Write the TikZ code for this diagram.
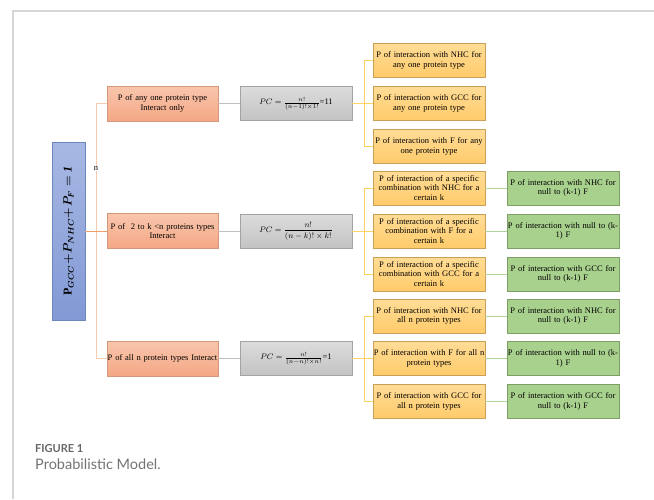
\documentclass[tikz,border=0pt]{standalone}
\usepackage{fontspec}
\setmainfont{Liberation Serif}
\newfontfamily\captionfont{Lato}
\usepackage{amsmath}
\usepackage{amssymb}
\usepackage{tikz}
\usetikzlibrary{positioning}
\definecolor{rootline}{HTML}{6F85BD}
\definecolor{roottop}{HTML}{A7B8E3}
\definecolor{rootbottom}{HTML}{8299D5}
\definecolor{caseline}{HTML}{D4977B}
\definecolor{casetop}{HTML}{F9C6AD}
\definecolor{casebottom}{HTML}{F4A785}
\definecolor{countline}{HTML}{A3A3A3}
\definecolor{counttop}{HTML}{DCDCDC}
\definecolor{countbottom}{HTML}{C3C3C3}
\definecolor{partnerline}{HTML}{C9A055}
\definecolor{partnertop}{HTML}{FFDC96}
\definecolor{partnerbottom}{HTML}{FFCB6B}
\definecolor{nullline}{HTML}{7E9E66}
\definecolor{nullfill}{HTML}{A9D18E}
\definecolor{trunkcolor}{HTML}{F8CBAD}
\definecolor{stemcolor}{HTML}{F0A070}
\definecolor{spinecolor}{HTML}{FFD265}
\definecolor{framecolor}{HTML}{D6D6D6}
\tikzset{
root box/.style = { rectangle, draw = rootline, top color = roottop, bottom color = rootbottom, minimum width = 33pt, minimum height = 178pt, inner sep = 0pt },
case box/.style = { rectangle, draw = caseline, top color = casetop, bottom color = casebottom, text width = 111pt, minimum height = 35pt, inner xsep = 0pt, inner ysep = 1pt, align = center, font = \fontsize{8.5}{9.4}\selectfont },
count box/.style = { rectangle, draw = countline, top color = counttop, bottom color = countbottom, text width = 112pt, minimum height = 34pt, inner xsep = 0pt, inner ysep = 1pt, align = center, font = \fontsize{8.5}{9.5}\selectfont },
partner box/.style = { rectangle, draw = partnerline, top color = partnertop, bottom color = partnerbottom, text width = 112pt, minimum height = 34pt, inner xsep = 0pt, inner ysep = 1pt, align = center, font = \fontsize{8.5}{9.2}\selectfont },
null box/.style = { rectangle, draw = nullline, fill = nullfill, text width = 112pt, minimum height = 34pt, inner xsep = 0pt, inner ysep = 1pt, align = center, font = \fontsize{8.5}{9.2}\selectfont },
trunk line/.style = { draw = trunkcolor, line width = 0.9pt },
stem line/.style = { draw = stemcolor, line width = 0.9pt },
count line/.style = { draw = countline!70, line width = 0.9pt },
spine line/.style = { draw = spinecolor, line width = 0.9pt },
null line/.style = { draw = nullfill!90!white, line width = 0.9pt },
}

\begin{document}
\begin{tikzpicture}[x = 1pt, y = -1pt]
    \useasboundingbox (0, 0) rectangle (654, 499);
    \draw[framecolor, line width = 1.2pt] (13, 499) -- (13, 11) -- (654, 11);
    % root
    \node[root box] (root) at (68.5, 231) {\rotatebox{90}{\fontsize{12}{14}\selectfont\boldmath $\mathrm{P}_{GCC}\!+\!P_{NHC}\!+\!P_{F}=\mathit{1}$}};
    % three cases
    \node[case box] (case1) at (162.5, 103.5) {P of any one protein type\\Interact only};
    \node[case box] (case2) at (162.5, 231) {P of \ 2 to k <n proteins types\\Interact};
    \node[case box] (case3) at (162.5, 358.5) {P of all n protein types Interact};
    \node[count box] (count1) at (296, 103.5) {\mbox{$PC=\tfrac{n!}{(n-1)!\times 1!}$=11}};
    \node[count box] (count2) at (296, 231) {\mbox{$PC=\dfrac{n!}{(n-k)!\times k!}$}};
    \node[count box] (count3) at (296, 358.5) {\mbox{$PC=\tfrac{n!}{(n-n)!\times n!}$=1}};
    % any one protein type
    \node[partner box] (partner11) at (429, 60.5) {P of interaction with NHC for\\any one protein type};
    \node[partner box] (partner12) at (429, 103.5) {P of interaction with GCC for\\any one protein type};
    \node[partner box] (partner13) at (429, 146.5) {P of interaction with F for any\\one protein type};
    % 2 to k
    \node[partner box] (partner21) at (429, 188) {P of interaction of a specific\\combination with NHC for a\\certain k};
    \node[partner box] (partner22) at (429, 231) {P of interaction of a specific\\combination with F for a\\certain k};
    \node[partner box] (partner23) at (429, 274) {P of interaction of a specific\\combination with GCC for a\\certain k};
    \node[null box] (null21) at (563, 188) {P of interaction with NHC for\\null to (k-1) F};
    \node[null box] (null22) at (563, 231) {P of interaction with null to (k-\\1) F};
    \node[null box] (null23) at (563, 274) {P of interaction with GCC for\\null to (k-1) F};
    % all n
    \node[partner box] (partner31) at (429, 316) {P of interaction with NHC for\\all n protein types};
    \node[partner box] (partner32) at (429, 358.5) {P of interaction with F for all n\\protein types};
    \node[partner box] (partner33) at (429, 401.5) {P of interaction with GCC for\\all n protein types};
    \node[null box] (null31) at (563, 316) {P of interaction with NHC for\\null to (k-1) F};
    \node[null box] (null32) at (563, 358.5) {P of interaction with null to (k-\\1) F};
    \node[null box] (null33) at (563, 401.5) {P of interaction with GCC for\\null to (k-1) F};
    % connectors
    \coordinate (split) at (96, 231);
    \coordinate (spine1) at (364, 103.5);
    \coordinate (spine2) at (364, 231);
    \coordinate (spine3) at (364, 358.5);
    \draw[trunk line] (split) |- (case1.west);
    \draw[trunk line] (split) |- (case3.west);
    \draw[stem line] (root.east) -- (case2.west);
    \node[fill = white, inner sep = 0.5pt, font = \fontsize{8.5}{9}\selectfont] (nlabel) at (96, 168) {n};
    \draw[count line] (case1) -- (count1);
    \draw[count line] (case2) -- (count2);
    \draw[count line] (case3) -- (count3);
    \draw[spine line] (count1.east) -- (partner12.west);
    \draw[spine line] (spine1) |- (partner11.west);
    \draw[spine line] (spine1) |- (partner13.west);
    \draw[spine line] (count2.east) -- (partner22.west);
    \draw[spine line] (spine2) |- (partner21.west);
    \draw[spine line] (spine2) |- (partner23.west);
    \draw[spine line] (count3.east) -- (partner32.west);
    \draw[spine line] (spine3) |- (partner31.west);
    \draw[spine line] (spine3) |- (partner33.west);
    \draw[null line] (partner21) -- (null21);
    \draw[null line] (partner22) -- (null22);
    \draw[null line] (partner23) -- (null23);
    \draw[null line] (partner31) -- (null31);
    \draw[null line] (partner32) -- (null32);
    \draw[null line] (partner33) -- (null33);
    % caption
    \node[anchor = base west, inner sep = 0pt, text = black!60, font = \captionfont\fontsize{11}{13}\selectfont\bfseries] (figlabel) at (35, 452) {FIGURE 1};
    \node[anchor = base west, inner sep = 0pt, text = black!55, font = \captionfont\fontsize{14.5}{16}\selectfont] (figtitle) at (35, 469) {Probabilistic Model.};
\end{tikzpicture}
\end{document}
